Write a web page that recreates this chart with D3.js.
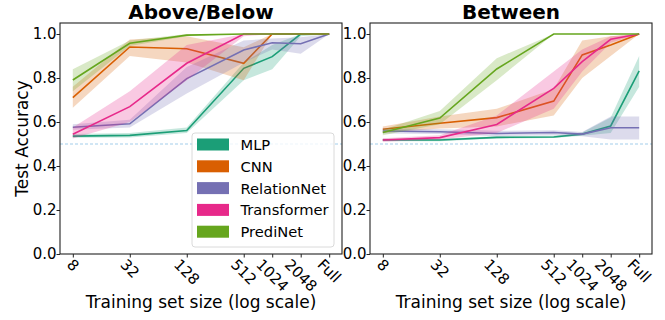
<!DOCTYPE html>
<html>
<head>
<meta charset="utf-8">
<script src="https://cdn.jsdelivr.net/npm/d3@7"></script>
<style>
  body { margin: 0; background: #fff; }
  text { font-family: "DejaVu Sans", sans-serif; fill: #000; }
</style>
</head>
<body>
<div id="area"></div>
<script>
// training set sizes (x) and their log2 position; "Full" placed one step after 2048
var sizeLabels = ["8", "32", "128", "512", "1024", "2048", "Full"];
var sizeLog2 = [3, 5, 7, 9, 10, 11, 12];

var models = ["MLP", "CNN", "RelationNet", "Transformer", "PrediNet"];
var colors = ["#1b9e77", "#d95f02", "#7570b3", "#e7298a", "#66a61e"];
var yTicks = [0, 0.2, 0.4, 0.6, 0.8, 1.0];
var chance = 0.5;

// Above/Below panel: mean, lower and upper band per model
var aboveMean = [
  [0.536, 0.539, 0.561, 0.844, 0.897, 1.0, 1.0],
  [0.711, 0.941, 0.933, 0.867, 1.0, 1.0, 1.0],
  [0.576, 0.592, 0.797, 0.927, 0.96, 0.956, 1.0],
  [0.544, 0.67, 0.867, 1.0, 1.0, 1.0, 1.0],
  [0.791, 0.958, 0.995, 1.0, 1.0, 1.0, 1.0]
];
var aboveLow = [
  [0.528, 0.53, 0.55, 0.79, 0.84, 0.99, 1.0],
  [0.665, 0.90, 0.87, 0.79, 1.0, 1.0, 1.0],
  [0.565, 0.575, 0.73, 0.87, 0.93, 0.91, 1.0],
  [0.525, 0.60, 0.79, 0.99, 1.0, 1.0, 1.0],
  [0.74, 0.945, 0.99, 1.0, 1.0, 1.0, 1.0]
];
var aboveHigh = [
  [0.545, 0.55, 0.575, 0.87, 0.95, 1.0, 1.0],
  [0.76, 0.975, 0.99, 0.94, 1.0, 1.0, 1.0],
  [0.59, 0.61, 0.85, 0.97, 0.98, 0.985, 1.0],
  [0.575, 0.74, 0.95, 1.0, 1.0, 1.0, 1.0],
  [0.84, 0.97, 1.0, 1.0, 1.0, 1.0, 1.0]
];

// Between panel
var betweenMean = [
  [0.518, 0.518, 0.53, 0.532, 0.545, 0.582, 0.832],
  [0.567, 0.594, 0.62, 0.695, 0.905, 0.95, 1.0],
  [0.559, 0.556, 0.548, 0.552, 0.545, 0.574, 0.574],
  [0.518, 0.529, 0.589, 0.753, 0.874, 0.976, 1.0],
  [0.552, 0.618, 0.841, 1.0, 1.0, 1.0, 1.0]
];
var betweenLow = [
  [0.512, 0.512, 0.525, 0.527, 0.538, 0.55, 0.76],
  [0.55, 0.57, 0.58, 0.63, 0.80, 0.90, 1.0],
  [0.548, 0.545, 0.535, 0.54, 0.535, 0.52, 0.52],
  [0.51, 0.52, 0.55, 0.66, 0.83, 0.96, 1.0],
  [0.54, 0.59, 0.79, 1.0, 1.0, 1.0, 1.0]
];
var betweenHigh = [
  [0.524, 0.524, 0.535, 0.537, 0.552, 0.62, 0.90],
  [0.58, 0.625, 0.66, 0.75, 0.97, 0.99, 1.0],
  [0.57, 0.567, 0.56, 0.563, 0.555, 0.625, 0.625],
  [0.526, 0.54, 0.63, 0.83, 0.93, 0.99, 1.0],
  [0.565, 0.65, 0.89, 1.0, 1.0, 1.0, 1.0]
];

var W = 665, H = 320;
var plotTop = 23, plotBottom = 254, plotW = 282;

var svg = d3.select("#area").append("svg")
  .attr("width", W).attr("height", H);

var yScale = d3.scaleLinear().domain([0, 1.05]).range([plotBottom, plotTop]);

function panel(left, title, mean, low, high, showYLabel, showLegend) {
  var xScale = d3.scaleLinear()
    .domain([sizeLog2[0] - 0.45, sizeLog2[sizeLog2.length - 1] + 0.45])
    .range([left, left + plotW]);

  var g = svg.append("g");

  // chance line
  g.append("line")
    .attr("x1", left).attr("x2", left + plotW)
    .attr("y1", yScale(chance)).attr("y2", yScale(chance))
    .attr("stroke", "#6fb3e0").attr("stroke-width", 0.8)
    .attr("stroke-dasharray", "3,2").attr("opacity", 0.8);

  var area = d3.area()
    .x(function (d, i) { return xScale(sizeLog2[i]); })
    .y0(function (d) { return yScale(d[0]); })
    .y1(function (d) { return yScale(d[1]); });
  var line = d3.line()
    .x(function (d, i) { return xScale(sizeLog2[i]); })
    .y(function (d) { return yScale(d); });

  models.forEach(function (m, k) {
    var band = low[k].map(function (v, i) { return [v, high[k][i]]; });
    g.append("path").attr("d", area(band))
      .attr("fill", colors[k]).attr("fill-opacity", 0.25).attr("stroke", "none");
    g.append("path").attr("d", line(mean[k]))
      .attr("fill", "none").attr("stroke", colors[k]).attr("stroke-width", 1.6);
  });

  // y axis
  var yAxis = g.append("g")
    .attr("transform", "translate(" + left + ",0)")
    .call(d3.axisLeft(yScale).tickValues(yTicks).tickFormat(d3.format(".1f")).tickSize(3.5).tickPadding(0));
  yAxis.select(".domain").remove();
  yAxis.selectAll("text").style("font-size", "15px").attr("font-family", "DejaVu Sans");
  yAxis.selectAll("line").attr("stroke", "#222");

  // x axis
  var xAxis = g.append("g")
    .attr("transform", "translate(0," + plotBottom + ")")
    .call(d3.axisBottom(xScale).tickValues(sizeLog2).tickFormat(function (d, i) { return sizeLabels[i]; }).tickSize(3.5));
  xAxis.select(".domain").remove();
  xAxis.selectAll("line").attr("stroke", "#222");
  xAxis.selectAll("text")
    .style("font-size", "15px")
    .attr("font-family", "DejaVu Sans")
    .attr("text-anchor", "middle")
    .attr("dominant-baseline", "central")
    .attr("y", 0).attr("dy", 0)
    .attr("transform", function () {
      var L = this.getComputedTextLength();
      var off = (L + 11) / 2 * 0.7071 + 4;
      return "translate(-0.5," + off + ") rotate(45)";
    });

  // frame
  g.append("rect")
    .attr("x", left).attr("y", plotTop)
    .attr("width", plotW).attr("height", plotBottom - plotTop)
    .attr("fill", "none").attr("stroke", "#222").attr("stroke-width", 1.1);

  // titles
  g.append("text")
    .attr("x", left + plotW / 2).attr("y", 18.6)
    .attr("text-anchor", "middle")
    .style("font-size", "20px").style("font-weight", "bold")
    .text(title);

  g.append("text")
    .attr("x", left + plotW / 2).attr("y", 308)
    .attr("text-anchor", "middle")
    .style("font-size", "17px")
    .text("Training set size (log scale)");

  if (showYLabel) {
    g.append("text")
      .attr("transform", "translate(22," + ((plotTop + plotBottom) / 2) + ") rotate(-90)")
      .attr("text-anchor", "middle")
      .attr("dominant-baseline", "central")
      .style("font-size", "17px")
      .text("Test Accuracy");
  }

  if (showLegend) {
    var lg = g.append("g").attr("transform", "translate(192,133)");
    lg.append("rect")
      .attr("width", 142).attr("height", 114).attr("rx", 3)
      .attr("fill", "#fff").attr("fill-opacity", 0.8)
      .attr("stroke", "#d0d0d0").attr("stroke-width", 0.8);
    models.forEach(function (m, k) {
      var yy = 11.5 + k * 21.8;
      lg.append("rect")
        .attr("x", 5).attr("y", yy - 6).attr("width", 32).attr("height", 12)
        .attr("fill", colors[k]);
      lg.append("text")
        .attr("x", 48.5).attr("y", yy)
        .attr("dominant-baseline", "central")
        .style("font-size", "14.7px")
        .text(m);
    });
  }
}

panel(60, "Above/Below", aboveMean, aboveLow, aboveHigh, true, true);
panel(370, "Between", betweenMean, betweenLow, betweenHigh, false, false);
</script>
</body>
</html>
